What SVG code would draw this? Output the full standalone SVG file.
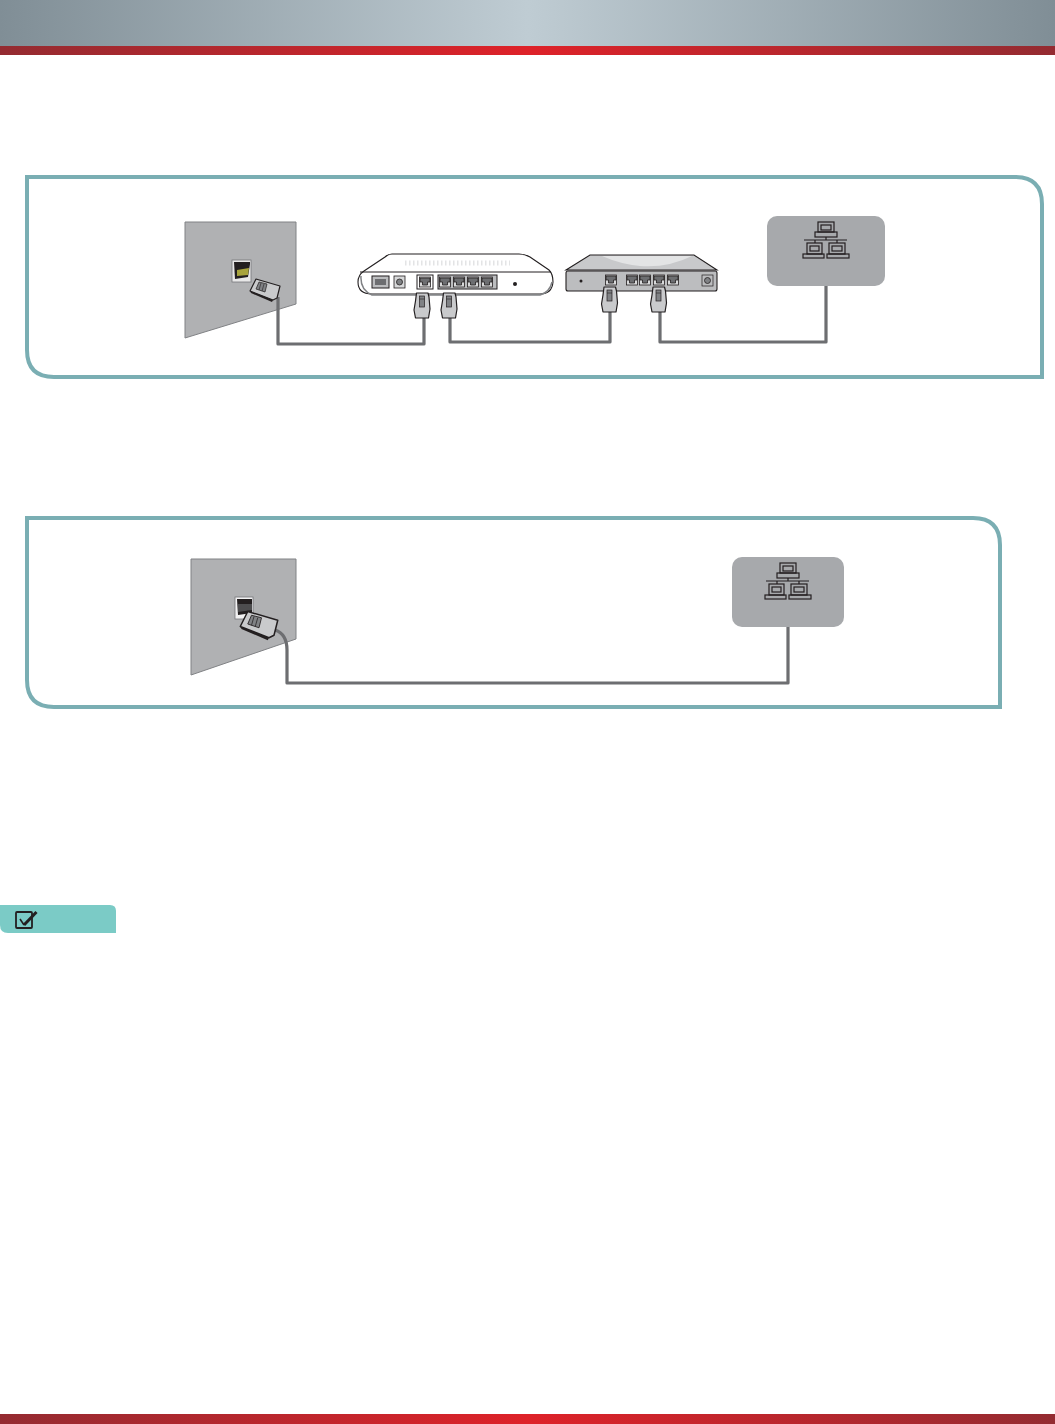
<svg xmlns="http://www.w3.org/2000/svg" width="1055" height="1424" viewBox="0 0 1055 1424">
<style>
.frame{fill:#fff;stroke:#7aaeb3;stroke-width:4}
.wall{fill:#b0b1b3;stroke:#808285;stroke-width:1}
.cloud{fill:#a7a9ac}
.net{fill:none;stroke:#231f20;stroke-width:1.2}
.cable{fill:none;stroke:#6d6e71;stroke-width:3.2;stroke-linejoin:round}
.dev{stroke:#231f20;stroke-width:1.1}
.port{fill:#6d6e71;stroke:#231f20;stroke-width:.8}
.slot{fill:#d8d9da;stroke:#231f20;stroke-width:.8}
.plug{fill:#c9cacc;stroke:#231f20;stroke-width:1.2;stroke-linejoin:round}
.plugi{fill:#808285;stroke:#231f20;stroke-width:.7}
.dots{fill:none;stroke:#e3e4e5;stroke-width:5;stroke-dasharray:1.500 2.500}
</style>
<defs>
<linearGradient id="gb"><stop offset="0" stop-color="#808e96"/><stop offset=".5" stop-color="#bfccd3"/><stop offset="1" stop-color="#808e96"/></linearGradient>
<linearGradient id="gr"><stop offset="0" stop-color="#942b31"/><stop offset=".5" stop-color="#de2229"/><stop offset="1" stop-color="#942b31"/></linearGradient>
<g id="netIcon" class="net">
<rect x="-8" y="-18" width="16" height="10"/><rect x="-5" y="-15" width="10" height="5"/>
<rect x="-11" y="-8" width="22" height="5"/>
<path d="M0-3V0M-22 0H21M-11 0V3M11 0V3"/>
<rect x="-19" y="3" width="15" height="11"/><rect x="-16" y="6" width="9" height="5"/>
<rect x="-23" y="14" width="21" height="4"/>
<rect x="3" y="3" width="16" height="11"/><rect x="6" y="6" width="10" height="5"/>
<rect x="1" y="14" width="22" height="4"/>
</g>
<g id="port"><rect class="slot" x="-5.500" y="-5" width="11" height="10"/><path class="port" d="M-5-4H5V0H2.500V3H-2.500V0H-5Z"/></g>
<g id="plugV">
<path class="plug" d="M-5.500 0H6L7 4 8 16 6.500 25H-6.500L-8 17-6.500 8Z"/>
<rect class="plugi" x="-2.500" y="3" width="5" height="11"/>
<path d="M-2.500 6H2.500" stroke="#231f20" stroke-width=".6"/>
</g>
<g id="plugS">
<path class="plug" d="M-9-10 15-3 12 9 8 11-15 2Z"/>
<path d="M-15 2-14 4 7 13 8 11Z" fill="#231f20"/>
<path class="plugi" d="M-6-7 2-5 0 3-9 0Z"/>
<path d="M-4-6-6 1M-1-5-3 2" stroke="#231f20" stroke-width=".6"/>
</g>
</defs>
<rect width="1055" height="1424" fill="#fff"/>
<rect id="header" width="1055" height="46" fill="url(#gb)"/>
<rect id="header-band" y="46" width="1055" height="9" fill="url(#gr)"/>
<rect id="footer-band" y="1414" width="1055" height="10" fill="url(#gr)"/>

<g id="frame-1"><path class="frame" d="M27 177H1015Q1042 177 1042 204V377H54Q27 377 27 350Z"/></g>
<g id="frame-2"><path class="frame" d="M27 518H973Q1000 518 1000 545V707H54Q27 707 27 680Z"/></g>

<g id="wall-1">
<path class="wall" d="M185 222H296V304L185 338Z"/>
<rect x="232" y="260" width="19" height="22" fill="#e8e8e8" stroke="#76777a" stroke-width=".8"/>
<path d="M234 262H250V264L248 277 235 279Z" fill="#231f20"/>
<path d="M237 270 249 268 248 275 237 276Z" fill="#a8a43c"/>
</g>

<g id="wall-2">
<path class="wall" d="M191 559H296V639L191 675Z"/>
<rect x="235" y="597" width="18" height="22" fill="#f1f1f2" stroke="#76777a" stroke-width=".8"/>
<path d="M237 599H252V613L238 615Z" fill="#231f20"/>
<path d="M238 604H252V610L238 612Z" fill="#4d4d4f"/>
</g>

<g id="connectors">
<path class="cable" d="M278 297V344H424V316"/>
<path class="cable" d="M450 316V342H610V310"/>
<path class="cable" d="M660 310V342H826V284"/>
<path class="cable" d="M275 630Q287 634 287 650V683H788V626"/>
</g>

<g id="plugs-wall">
<use href="#plugS" x="265" y="289"/>
<use href="#plugS" transform="translate(259 624) scale(1.250)"/>
</g>

<g id="modem">
<path class="dev" fill="#fff" d="M392 254H519Q525 254 530 257L549 270Q553 274 553 282Q552 294 540 294H372Q358 294 358 282Q358 275 364 271L385 257Q388 254 392 254Z"/>
<path d="M360 272H551" stroke="#231f20" stroke-width="1" fill="none"/>
<path d="M361 276Q360 290 372 295H540Q550 292 552 282" fill="none" stroke="#808285" stroke-width="1.500"/>
<path class="dots" d="M405 263H510"/>
<rect x="372" y="276" width="17" height="12" fill="#bcbdbf" stroke="#231f20" stroke-width="1"/>
<rect x="375" y="279" width="11" height="6" fill="#6d6e71"/>
<rect x="394" y="276" width="11" height="12" fill="#d8d9da" stroke="#231f20" stroke-width=".8"/>
<circle cx="399.500" cy="282" r="3" fill="#808285" stroke="#231f20" stroke-width=".8"/>
<rect x="417" y="275" width="16" height="14" fill="#fff" stroke="#231f20"/>
<use href="#port" x="425" y="282"/>
<rect x="438" y="275" width="59" height="14" fill="#bcbdbf" stroke="#231f20"/>
<use href="#port" x="445" y="282"/><use href="#port" x="459" y="282"/><use href="#port" x="473" y="282"/><use href="#port" x="487" y="282"/>
<circle cx="515" cy="284" r="2" fill="#231f20"/>
<use href="#plugV" x="422" y="293"/>
<use href="#plugV" x="449" y="293"/>
</g>

<g id="router">
<path class="dev" fill="#c8c9cb" d="M590 255H694L717 270H566Z"/>
<path fill="#e3e4e5" d="M602 256H692Q668 268 640 266 620 264 602 256Z"/>
<rect class="dev" x="566" y="271" width="151" height="20" rx="2" fill="#bcbdbf"/>
<circle cx="581" cy="281" r="1.500" fill="#231f20"/>
<use href="#port" x="611" y="280"/><use href="#port" x="632" y="280"/><use href="#port" x="645" y="280"/><use href="#port" x="659" y="280"/><use href="#port" x="673" y="280"/>
<rect x="702" y="275" width="11" height="11" fill="#bcbdbf" stroke="#231f20" stroke-width=".7"/>
<circle cx="707.500" cy="280.500" r="3" fill="#808285" stroke="#231f20" stroke-width=".8"/>
<use href="#plugV" x="609.500" y="287"/>
<use href="#plugV" x="658.500" y="287"/>
</g>

<g id="network-1">
<rect class="cloud" x="767" y="216" width="118" height="70" rx="10"/>
<use href="#netIcon" x="826" y="240"/>
</g>

<g id="network-2">
<rect class="cloud" x="732" y="557" width="112" height="70" rx="10"/>
<use href="#netIcon" x="788" y="581"/>
</g>

<g id="note">
<path d="M0 905H110Q116 905 116 911V933H8Q0 933 0 925Z" fill="#7bcbc6"/>
<rect x="16" y="912" width="16" height="16" rx="1" fill="none" stroke="#231f20" stroke-width="1.800"/>
<path d="M20 919 24 925" fill="none" stroke="#231f20" stroke-width="1.600"/>
<path d="M24 925 36.500 912" fill="none" stroke="#231f20" stroke-width="3"/>
</g>
</svg>
